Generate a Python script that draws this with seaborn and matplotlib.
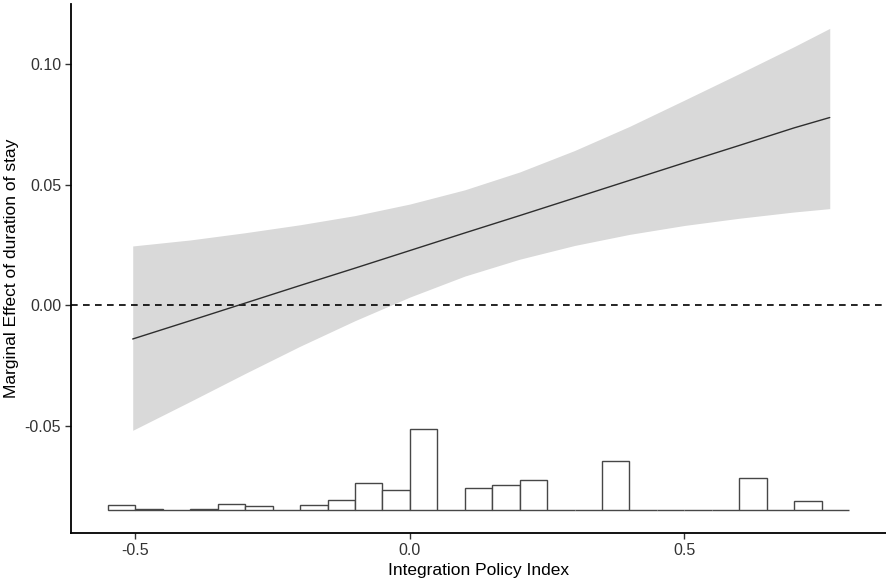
import numpy as np
import pandas as pd
import matplotlib
matplotlib.use("Agg")
import matplotlib.pyplot as plt
import seaborn as sns

# Marginal effect of duration of stay across the Integration Policy Index
mip_x = [-0.505, -0.4, -0.3, -0.2, -0.1, 0.0, 0.1, 0.2, 0.3, 0.4, 0.5, 0.6, 0.7, 0.765]
effect = [-0.0141, -0.0065, 0.0008, 0.0081, 0.0153, 0.0226, 0.0299, 0.0371,
          0.0444, 0.0517, 0.0590, 0.0662, 0.0735, 0.0778]
ci_lower = [-0.0520, -0.0400, -0.0284, -0.0171, -0.0065, 0.0033, 0.0120, 0.0190,
            0.0247, 0.0293, 0.0330, 0.0360, 0.0386, 0.0400]
ci_upper = [0.0245, 0.0270, 0.0300, 0.0333, 0.0371, 0.0419, 0.0478, 0.0552,
            0.0641, 0.0741, 0.0850, 0.0960, 0.1072, 0.1148]

# Distribution of the Integration Policy Index (share of observations, %)
bin_left = [-0.55, -0.50, -0.45, -0.40, -0.35, -0.30, -0.25, -0.20, -0.15,
            -0.10, -0.05, 0.00, 0.05, 0.10, 0.15, 0.20, 0.25, 0.30, 0.35,
            0.40, 0.45, 0.50, 0.55, 0.60, 0.65, 0.70, 0.75]
bin_share = [1.5, 0.3, 0.0, 0.3, 2.0, 1.2, 0.0, 1.5, 3.2,
             8.4, 6.1, 24.5, 0.0, 6.8, 7.6, 9.3, 0.0, 0.0, 15.0,
             0.0, 0.0, 0.0, 0.0, 9.7, 0.0, 2.7, 0.1]
bin_width = 0.05

x_ticks = [-0.5, 0.0, 0.5]
x_ticklabels = ["-0.5", "0.0", "0.5"]
y_ticks = [-0.05, 0.00, 0.05, 0.10]
y_ticklabels = ["-0.05", "0.00", "0.05", "0.10"]

sns.set_theme(style="ticks")
plt.rcParams["font.family"] = ["Liberation Sans", "DejaVu Sans"]

fig = plt.figure(figsize=(8.86, 5.83), dpi=100)
ax = fig.add_axes([0.0801, 0.0858, 0.9199, 0.9073])

df = pd.DataFrame({"mip": mip_x, "effect": effect, "lo": ci_lower, "hi": ci_upper})

# confidence band and estimated marginal effect
ax.fill_between(df["mip"], df["lo"], df["hi"], color="#d9d9d9", linewidth=0, zorder=1)
sns.lineplot(data=df, x="mip", y="effect", ax=ax, color="#2e2e2e", linewidth=1.0,
             zorder=3)

# reference line at zero
ax.axhline(0, color="black", linewidth=1.2, linestyle=(0, (4, 3.2)), zorder=2)

# histogram of the moderator along the bottom of the panel
hist_base = -0.0852
hist_scale = 0.0336 / max(bin_share)
heights = [s * hist_scale for s in bin_share]
ax.bar(bin_left, heights, width=bin_width, bottom=hist_base, align="edge",
       facecolor="white", edgecolor="#474747", linewidth=1.0, zorder=2)

ax.set_xlim(-0.6175, 0.8675)
ax.set_ylim(-0.0946, 0.1249)
ax.set_xticks(x_ticks)
ax.set_xticklabels(x_ticklabels)
ax.set_yticks(y_ticks)
ax.set_yticklabels(y_ticklabels)

ax.set_xlabel("Integration Policy Index", fontsize=12.5, color="black", labelpad=4)
ax.set_ylabel("Marginal Effect of duration of stay", fontsize=12.5, color="black",
              labelpad=4)
ax.tick_params(axis="both", labelsize=11.5, colors="#333333", length=4, width=1.0,
               pad=3)
ax.tick_params(axis="both", labelcolor="#333333")

for side in ["top", "right"]:
    ax.spines[side].set_visible(False)
for side in ["left", "bottom"]:
    ax.spines[side].set_linewidth(1.3)
    ax.spines[side].set_color("black")

fig.savefig("out.png", dpi=100, facecolor="white")
